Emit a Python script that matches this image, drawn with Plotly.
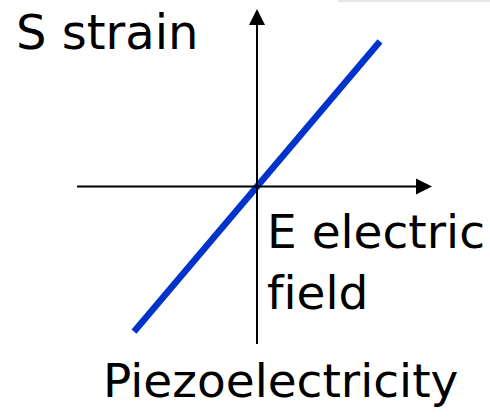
import plotly.graph_objects as go

# Data: linear piezoelectric relation S = d * E
E_field = [-1.0, 1.0]
S_strain = [-1.18, 1.18]

# axis extents (data units)
E_axis = [-1.463, 1.423]
S_axis = [-1.28, 1.443]

W, H = 490, 417
PX = 123.0          # pixels per data unit
OX, OY = 257.0, 186.5

x_range = [-OX / PX, (W - OX) / PX]
y_range = [-(H - OY) / PX, OY / PX]

def dx(p):
    return p / PX

fig = go.Figure()

fig.add_trace(go.Scatter(
    x=E_field, y=S_strain, mode="lines",
    line=dict(color="#0033cc", width=6.5),
    hoverinfo="skip", showlegend=False,
))

shapes = []
# horizontal axis shaft
shapes.append(dict(type="line", xref="x", yref="y",
                   x0=E_axis[0], y0=0, x1=E_axis[1] - dx(14), y1=0,
                   line=dict(color="black", width=2)))
# vertical axis shaft
shapes.append(dict(type="line", xref="x", yref="y",
                   x0=0, y0=S_axis[0], x1=0, y1=S_axis[1] - dx(14),
                   line=dict(color="black", width=2)))
# arrowheads
tx = E_axis[1]
shapes.append(dict(type="path", xref="x", yref="y",
                   path=f"M {tx} 0 L {tx - dx(16)} {dx(8)} L {tx - dx(16)} {-dx(8)} Z",
                   fillcolor="black", line=dict(color="black", width=0)))
ty = S_axis[1]
shapes.append(dict(type="path", xref="x", yref="y",
                   path=f"M 0 {ty} L {dx(8)} {ty - dx(16)} L {-dx(8)} {ty - dx(16)} Z",
                   fillcolor="black", line=dict(color="black", width=0)))
# faint shadow strip at top right
shapes.append(dict(type="rect", xref="paper", yref="paper",
                   x0=338 / W, x1=1, y0=1 - 2 / H, y1=1,
                   fillcolor="#e6e6e6", line=dict(width=0), layer="below"))

font = dict(family="DejaVu Sans", size=47, color="black")
annotations = [
    dict(text="S strain", xref="paper", yref="paper",
         x=14 / W, y=1 - 32 / H, xanchor="left", yanchor="middle",
         showarrow=False, font=dict(family="DejaVu Sans", size=48, color="black")),
    dict(text="E electric<br>f\u200cield", xref="paper", yref="paper",
         x=265 / W, y=1 - 262 / H, xanchor="left", yanchor="middle",
         align="left", showarrow=False, font=font),
    dict(text="Piezoelectricity", xref="paper", yref="paper",
         x=280 / W, y=1 - 380 / H, xanchor="center", yanchor="middle",
         showarrow=False, font=font),
]

fig.update_layout(
    width=W, height=H,
    margin=dict(l=0, r=0, t=0, b=0),
    paper_bgcolor="white", plot_bgcolor="white",
    xaxis=dict(range=x_range, visible=False, fixedrange=True),
    yaxis=dict(range=y_range, visible=False, fixedrange=True),
    shapes=shapes, annotations=annotations,
    showlegend=False,
)

fig.write_html("out.html", config={"displayModeBar": False},
               post_script="document.body.style.margin='0';")
